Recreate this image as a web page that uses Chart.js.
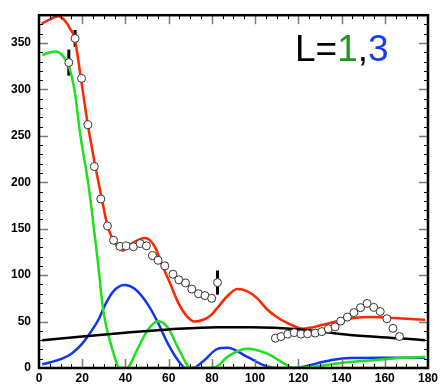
<!DOCTYPE html>
<html>
<head>
<meta charset="utf-8">
<script src="https://cdn.jsdelivr.net/npm/chart.js@4.4.1/dist/chart.umd.min.js"></script>
<style>
  html, body { margin: 0; padding: 0; background: #fff; }
  canvas { display: block; }
</style>
</head>
<body>
<canvas id="fit" width="441" height="387"></canvas>
<script>
// axis tick labels
const xTicks = [0, 20, 40, 60, 80, 100, 120, 140, 160, 180];
const yTicks = [0, 50, 100, 150, 200, 250, 300, 350];

// measured cross section (open circles) with error bars
const dataX = [13.8, 16.7, 19.7, 22.6, 25.6, 28.6, 31.7, 34.5, 37.5, 40.4, 43.7, 46.8, 49.7, 52.5, 55.1, 58.2,
  62.0, 64.7, 67.8, 70.7, 73.8, 76.8, 79.9, 82.6,
  109.4, 112.0, 115.1, 118.1, 121.2, 124.3, 127.8, 130.9, 133.9, 137.0, 139.6, 142.7, 145.7, 148.8, 151.8,
  154.9, 157.9, 161.0, 163.8, 166.8];
const dataY = [329, 355, 312, 262, 217, 182, 153, 137.6, 131, 131.5, 130.6, 134, 131.6, 121, 116, 110,
  101, 95, 91.6, 85, 80, 78, 75, 92,
  32.1, 33.9, 36.4, 38.1, 36.5, 36.8, 37.6, 39.2, 42.2, 44.3, 50.5, 54.8, 59.7, 65, 69.5,
  65.3, 60.8, 53.1, 42.7, 33.9];
const dataErr = [14, 9, 0, 0, 0, 0, 0, 0, 0, 0, 0, 0, 0, 0, 0, 0,
  0, 0, 0, 0, 0, 0, 0, 13,
  0, 0, 0, 0, 0, 0, 0, 0, 0, 0, 0, 0, 0, 0, 0,
  0, 0, 0, 0, 0];

// total fit
const redX = [1.2, 4.6, 9, 12.2, 14.5, 16.5, 19.4, 22.6, 26, 29, 31.7, 34.4, 38.5, 42.8, 49, 53.6, 56.6, 60.5,
  64.3, 68, 72, 76, 79.6, 83, 87, 91.8, 96, 101, 105.6, 110, 114.8, 122.4, 127, 134.7, 141, 148, 155, 162, 170, 178.7];
const redY = [371, 375, 379, 373.5, 365, 355, 312, 262, 218, 183, 153, 137.6, 126.5, 134, 140, 130.6, 113, 92,
  71, 57, 50, 52, 57, 66, 77, 85, 83, 75, 63, 55, 48.6, 42.3, 44, 48.5, 52, 54.5, 55, 54, 53, 52];

// L=1 component
const greenX = [1.5, 4.6, 7.7, 10.7, 13.8, 16.5, 19.1, 22.9, 27.2, 29.8, 33.7, 37.5, 40.5, 45.9, 50.5, 55.1, 59.7,
  64.3, 70.4, 78, 82.6, 87.2, 96.4, 105.6, 113.3, 118, 128.6, 140.8, 154.5, 168.4, 178.7];
const greenY = [337, 339.6, 341, 337, 325, 298, 251.5, 197, 115, 61, 22, 0, 0, 22, 41.5, 50.3, 43.3,
  22, 0, 0, 2, 12, 20.6, 15.4, 5, 0, 2, 5.6, 8.4, 11, 12];

// L=3 component
const blueX = [1.5, 5, 10.7, 15.3, 19.9, 23.7, 27.5, 30.6, 34.4, 39.5, 44.4, 50.5, 55.1, 59.7, 64.3, 68, 72,
  76.5, 82.6, 87.2, 96.4, 104, 110, 120, 128.6, 136.2, 143.9, 160, 178.7];
const blueY = [4, 6, 10, 16, 26, 38, 52, 68, 82.5, 89.4, 85, 68, 48.6, 26, 8.4, 0, 0.7,
  8.4, 20.6, 21.7, 12, 3, 0, 0.5, 5, 9, 10.8, 11, 11];

// background
const blackX = [1.5, 20, 39.8, 60, 82.6, 98, 121, 144, 166.8, 178.7];
const blackY = [30, 34, 38, 41.5, 44, 44, 41.6, 35.6, 32, 30];

// higher-L term, zero over the range
const yellowX = [36, 180];
const yellowY = [0, 0];

const zip = (xs, ys) => xs.map((x, i) => ({ x, y: ys[i] }));

function curve(xs, ys, color) {
  return {
    data: zip(xs, ys),
    showLine: true,
    borderColor: color,
    borderWidth: 2.5,
    pointRadius: 0,
    cubicInterpolationMode: "monotone",
    order: 1,
  };
}

const frameAndTicks = {
  id: "frameAndTicks",
  beforeDatasetsDraw(chart) {
    // error bars sit under the open circles
    const { ctx, scales: { x, y } } = chart;
    ctx.save();
    ctx.strokeStyle = "#000";
    ctx.lineWidth = 3;
    dataErr.forEach((e, i) => {
      if (!e) return;
      const px = x.getPixelForValue(dataX[i]);
      ctx.beginPath();
      ctx.moveTo(px, y.getPixelForValue(dataY[i] - e));
      ctx.lineTo(px, y.getPixelForValue(dataY[i] + e));
      ctx.stroke();
    });
    ctx.restore();
  },
  afterDraw(chart) {
    const { ctx, chartArea: a, scales: { x, y } } = chart;
    ctx.save();
    const mark = (x1, y1, x2, y2, major) => {
      ctx.strokeStyle = major ? "#7a7a7a" : "#000";
      ctx.lineWidth = major ? 1.5 : 1;
      ctx.beginPath();
      ctx.moveTo(x1, y1);
      ctx.lineTo(x2, y2);
      ctx.stroke();
    };
    for (let v = 5; v < 180; v += 5) {
      const px = Math.round(x.getPixelForValue(v)) + 0.5;
      const major = v % 20 === 0;
      const len = major ? 9 : 4;
      mark(px, a.bottom, px, a.bottom - len, major);
      mark(px, a.top, px, a.top + len, major);
    }
    for (let v = 10; v < 380; v += 10) {
      const py = Math.round(y.getPixelForValue(v)) + 0.5;
      const major = v % 50 === 0;
      const len = major ? 9 : 4;
      mark(a.left, py, a.left + len, py, major);
      mark(a.right, py, a.right - len, py, major);
    }
    ctx.strokeStyle = "#000";
    ctx.lineWidth = 2.5;
    ctx.strokeRect(a.left, a.top, a.right - a.left, a.bottom - a.top);

    // L=1,3 tag
    ctx.font = "37px 'Liberation Sans', Arial, sans-serif";
    ctx.textBaseline = "alphabetic";
    let tx = 295;
    [["L=", "#000"], ["1", "#1a9a1a"], [",", "#000"], ["3", "#1a3cf0"]].forEach(([s, c]) => {
      ctx.fillStyle = c;
      ctx.fillText(s, tx, 61);
      tx += ctx.measureText(s).width;
    });
    ctx.restore();
  },
};

const tickFont = { family: "'Liberation Sans', Arial, sans-serif", size: 12, weight: "bold" };

new Chart(document.getElementById("fit"), {
  type: "scatter",
  data: {
    datasets: [
      {
        data: zip(dataX, dataY),
        pointRadius: 4,
        pointBackgroundColor: "#fff",
        pointBorderColor: "#333",
        pointBorderWidth: 1,
        order: 0,
      },
      curve(yellowX, yellowY, "#dede00"),
      curve(blackX, blackY, "#000"),
      curve(greenX, greenY, "#1ee01e"),
      curve(blueX, blueY, "#1236f0"),
      curve(redX, redY, "#ff2600"),
    ],
  },
  options: {
    responsive: false,
    animation: false,
    devicePixelRatio: 1,
    layout: { padding: { top: 5, right: 8, left: 0, bottom: 0 } },
    plugins: { legend: { display: false }, tooltip: { enabled: false } },
    scales: {
      x: {
        type: "linear",
        min: 0,
        max: 180,
        afterBuildTicks: (s) => { s.ticks = xTicks.map((v) => ({ value: v })); },
        afterFit: (s) => { s.height = 19; },
        grid: { display: false, drawTicks: false },
        border: { display: false },
        ticks: { padding: 3, color: "#000", font: tickFont, maxRotation: 0, autoSkip: false },
      },
      y: {
        min: 0,
        max: 380,
        afterBuildTicks: (s) => { s.ticks = yTicks.map((v) => ({ value: v })); },
        afterFit: (s) => { s.width = 39; },
        grid: { display: false, drawTicks: false },
        border: { display: false },
        ticks: { padding: 8, color: "#000", font: tickFont, autoSkip: false },
      },
    },
  },
  plugins: [frameAndTicks],
});
</script>
</body>
</html>
